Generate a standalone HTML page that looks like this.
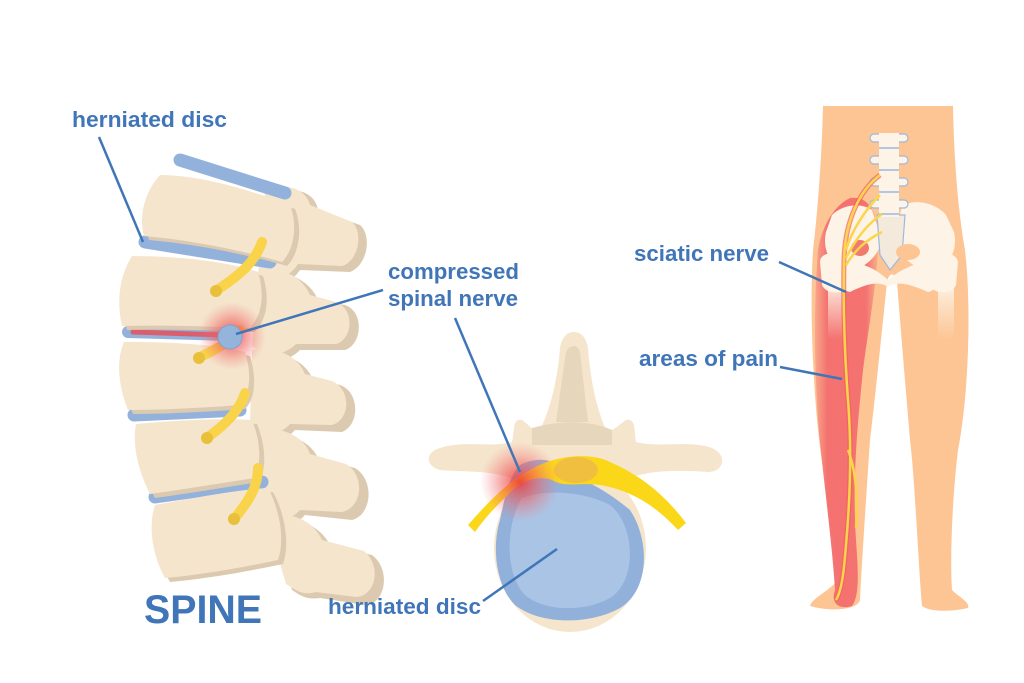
<!DOCTYPE html>
<html><head><meta charset="utf-8"><style>
html,body{margin:0;padding:0;background:#fff;width:1024px;height:683px;overflow:hidden}
svg{display:block}
text{font-family:"Liberation Sans",sans-serif;font-weight:bold;fill:#4076b8}
</style></head><body>
<svg width="1024" height="683" viewBox="0 0 1024 683" xmlns="http://www.w3.org/2000/svg">
<defs>
<radialGradient id="glow"><stop offset="0" stop-color="#ee3a3a" stop-opacity="0.9"/><stop offset="0.5" stop-color="#f06060" stop-opacity="0.5"/><stop offset="1" stop-color="#f38080" stop-opacity="0"/></radialGradient>
<linearGradient id="pain" x1="0" x2="1"><stop offset="0" stop-color="#f8a58a"/><stop offset="0.2" stop-color="#f36d6d"/><stop offset="0.8" stop-color="#f36d6d"/><stop offset="1" stop-color="#f9b08a"/></linearGradient>
<linearGradient id="femur" x1="0" y1="0" x2="0" y2="1"><stop offset="0" stop-color="#fdf3e6"/><stop offset="1" stop-color="#fdf3e6" stop-opacity="0"/></linearGradient>
</defs>

<!-- ===== SPINE (side view) ===== -->
<g stroke-linecap="round">
<g fill="#dccab0">
<path d="M270 195 C290 185 315 190 318 210 L360 225 C372 235 368 265 350 272 L300 270 C290 285 270 290 262 280 Z"/>
<path d="M262 275 C285 268 310 280 318 300 L345 305 C365 312 362 345 345 350 L300 350 C285 365 265 362 258 350 Z"/>
<path d="M258 355 C280 350 305 360 312 378 L340 385 C360 392 360 425 342 432 L295 430 C282 445 262 440 255 430 Z"/>
<path d="M262 435 C285 430 310 440 318 458 L355 468 C375 480 372 515 352 520 L305 515 C292 530 272 525 265 515 Z"/>
<path d="M272 520 C295 515 320 525 330 545 L372 555 C392 570 385 605 365 605 L320 598 C305 600 300 595 292 590 Z"/>
</g>
<g fill="#f5e5cd">
<path d="M265 192 C283 182 305 187 310 205 L352 222 C364 232 358 262 342 266 L298 264 C288 280 268 284 258 275 Z"/>
<path d="M258 272 C280 265 302 276 310 295 L336 302 C356 310 352 340 336 344 L296 344 C282 358 262 356 252 346 Z"/>
<path d="M252 350 C275 345 298 356 305 374 L332 381 C352 390 350 420 332 425 L290 424 C278 438 258 434 250 425 Z"/>
<path d="M256 430 C280 425 304 436 310 454 L346 464 C366 476 362 508 342 512 L300 510 C288 524 268 520 260 510 Z"/>
<path d="M266 516 C290 510 314 521 322 540 L364 551 C382 566 376 596 356 597 L316 592 C302 596 296 590 286 584 Z"/>
</g>
<line x1="180" y1="160" x2="285" y2="193" stroke="#92b2dc" stroke-width="13"/>
<line x1="145" y1="242" x2="270" y2="262" stroke="#92b2dc" stroke-width="13"/>
<line x1="128" y1="332" x2="230" y2="335" stroke="#92b2dc" stroke-width="12"/>
<line x1="134" y1="415" x2="240" y2="410" stroke="#92b2dc" stroke-width="13"/>
<line x1="155" y1="497" x2="262" y2="482" stroke="#92b2dc" stroke-width="13"/>
<line x1="133" y1="332" x2="222" y2="335" stroke="#e8505a" stroke-width="5" opacity="0.85"/>
<g fill="#dccab0">
<path d="M160 175 C200 175 250 190 290 205 C298 225 294 250 282 262 C240 250 190 240 144 236 C138 215 146 190 160 175Z" transform="translate(5,4)"/>
<path d="M132 256 C180 256 230 262 258 272 C265 295 262 315 250 328 C200 326 160 325 122 326 C116 300 120 275 132 256Z" transform="translate(5,4)"/>
<path d="M124 342 C170 342 215 344 245 352 C252 375 250 395 240 405 C200 408 160 410 128 410 C118 385 116 360 124 342Z" transform="translate(5,4)"/>
<path d="M136 424 C180 420 220 418 252 420 C260 440 262 460 255 478 C215 484 180 490 150 494 C138 470 132 445 136 424Z" transform="translate(5,4)"/>
<path d="M155 505 C195 498 235 490 268 488 C280 510 285 540 278 560 C240 568 200 575 165 578 C152 555 148 525 155 505Z" transform="translate(5,4)"/>
</g>
<g fill="#f5e5cd">
<path d="M160 175 C200 175 250 190 290 205 C298 225 294 250 282 262 C240 250 190 240 144 236 C138 215 146 190 160 175Z"/>
<path d="M132 256 C180 256 230 262 258 272 C265 295 262 315 250 328 C200 326 160 325 122 326 C116 300 120 275 132 256Z"/>
<path d="M124 342 C170 342 215 344 245 352 C252 375 250 395 240 405 C200 408 160 410 128 410 C118 385 116 360 124 342Z"/>
<path d="M136 424 C180 420 220 418 252 420 C260 440 262 460 255 478 C215 484 180 490 150 494 C138 470 132 445 136 424Z"/>
<path d="M155 505 C195 498 235 490 268 488 C280 510 285 540 278 560 C240 568 200 575 165 578 C152 555 148 525 155 505Z"/>
</g>
<g fill="none" stroke="#f9d34a" stroke-width="10">
<path d="M217 290 C240 275 255 262 262 242"/>
<path d="M200 357 C215 350 228 343 240 330"/>
<path d="M208 437 C225 425 240 410 245 393"/>
<path d="M235 518 C245 505 258 490 258 468"/>
</g>
<g fill="#e8c03a"><circle cx="216" cy="291" r="6"/><circle cx="199" cy="358" r="6"/><circle cx="207" cy="438" r="6"/><circle cx="234" cy="519" r="6"/></g>
<circle cx="232" cy="336" r="34" fill="url(#glow)"/>
<circle cx="230" cy="337" r="12" fill="#94b4dc" stroke="#7fa2d0" stroke-width="1"/>
</g>

<!-- ===== CROSS SECTION ===== -->
<g>
<path d="M440 448 C465 440 490 448 512 442 C515 430 512 418 522 420 C530 425 532 432 540 430 C552 405 558 375 560 348 C562 336 568 332 574 332 C580 332 586 336 588 348 C590 375 595 405 606 430 C614 432 618 425 626 420 C636 418 634 430 636 442 C660 448 690 440 712 448 C728 455 724 472 708 472 C680 470 650 470 630 478 L510 478 C490 470 460 472 440 470 C425 466 425 452 440 448Z" fill="#f5e5cd"/>
<path d="M566 352 C570 344 578 344 580 352 L588 422 L556 422 Z" fill="#e6d6bc"/>
<path d="M532 428 C560 420 590 420 612 430 L612 445 L532 445Z" fill="#e6d6bc"/>
<ellipse cx="570" cy="548" rx="76" ry="84" fill="#f5e5cd"/>
<path d="M520 465 C540 455 560 460 562 475 C575 475 600 485 630 510 C650 540 650 590 620 608 C590 625 540 625 515 605 C495 585 492 545 500 520 C505 495 510 475 520 465Z" fill="#91b1da"/>
<path d="M522 498 C545 490 580 490 610 505 C635 525 638 580 610 598 C585 612 545 612 525 595 C505 575 505 525 522 498Z" fill="#aac4e6"/>
<path d="M468 525 C490 500 510 480 530 470 C555 455 590 452 610 462 C640 475 665 495 686 523 L678 530 C655 505 630 490 600 485 C580 482 565 488 552 480 C540 475 520 480 508 495 C495 507 485 518 475 532Z" fill="#fbd71a"/>
<ellipse cx="576" cy="470" rx="22" ry="13" fill="#f1bf40"/>
<circle cx="520" cy="482" r="40" fill="url(#glow)"/>
</g>

<!-- ===== BODY ===== -->
<g>
<path d="M823 106 L953 106 C954 160 958 210 965 250 C972 310 968 400 958 450 C952 500 950 560 952 590 C960 598 970 602 968 608 C950 612 930 612 922 606 C918 560 915 480 910 440 C905 380 900 320 897 282 C895 272 889 272 887 282 C882 330 876 390 870 440 C866 500 862 560 860 600 C858 610 830 612 810 606 C812 598 828 592 838 580 C832 520 822 470 818 430 C812 370 810 300 813 250 C818 210 822 150 823 106Z" fill="#fdc593"/>
<path d="M850 198 C870 195 880 215 878 250 C875 300 866 340 862 380 C858 420 852 480 856 540 C858 570 860 595 852 606 C840 610 830 604 835 590 C832 540 822 470 818 420 C814 360 814 300 818 250 C822 225 835 205 850 198Z" fill="url(#pain)" opacity="0.95"/>
<!-- pelvis -->
<g fill="#fdf3e6">
<path d="M832 215 C842 205 860 202 872 210 L882 240 C878 255 870 262 860 268 L846 270 C830 265 822 250 826 232 Z"/>
<path d="M946 215 C936 203 915 198 902 206 L895 240 C900 255 908 262 918 268 L934 270 C950 265 958 250 954 232 Z"/>
<path d="M846 262 C862 262 878 270 888 280 C900 270 915 262 932 262 C942 272 940 290 928 292 C912 285 898 280 888 287 C878 280 864 285 850 292 C838 290 836 272 846 262Z"/>
<path d="M820 262 C820 250 845 250 848 262 L850 285 C845 295 826 295 822 285 Z"/>
<path d="M930 262 C932 250 956 250 958 262 L956 285 C952 295 934 295 930 285 Z"/>
<path d="M877 215 L905 215 L902 255 L890 270 L880 255 Z" fill="#f4eadc" stroke="#9db8de" stroke-width="1.2"/>
</g>
<rect x="828" y="280" width="16" height="60" fill="url(#femur)"/>
<rect x="938" y="280" width="16" height="60" fill="url(#femur)"/>
<ellipse cx="860" cy="248" rx="9" ry="8" fill="#f07a70"/>
<ellipse cx="908" cy="252" rx="12" ry="8" fill="#fdc593"/>
<g fill="#fdf3e6" stroke="#9db8de" stroke-width="1.2">
<rect x="870" y="134" width="38" height="8" rx="4"/>
<rect x="870" y="156" width="38" height="8" rx="4"/>
<rect x="870" y="178" width="38" height="8" rx="4"/>
<rect x="870" y="200" width="38" height="8" rx="4"/>
</g>
<rect x="879" y="133" width="20" height="84" fill="#fdf3e6"/>
<g stroke="#9db8de" stroke-width="1.5"><line x1="879" y1="148" x2="899" y2="148"/><line x1="879" y1="170" x2="899" y2="170"/><line x1="879" y1="192" x2="899" y2="192"/><line x1="879" y1="214" x2="899" y2="214"/></g>
<g fill="none" stroke="#f26060" stroke-width="5" opacity="0.7">
<path d="M880 175 C860 190 845 220 844 260 C843 310 845 360 848 400 C852 450 850 500 846 545 C844 570 842 590 836 600"/>
</g>
<g fill="none" stroke="#fbd54a" stroke-width="2.5">
<path d="M880 175 C860 190 845 220 844 260 C843 310 845 360 848 400 C852 450 850 500 846 545 C844 570 842 590 836 600"/>
<path d="M848 450 C856 470 858 500 856 528"/>
<path d="M880 195 C865 210 852 230 846 250"/>
<path d="M882 214 C866 225 855 240 846 258"/>
<path d="M882 232 C866 240 855 250 846 265"/>
</g>
</g>

<!-- ===== LABELS & LEADERS ===== -->
<g stroke="#4076b8" stroke-width="2.5" fill="none">
<line x1="99" y1="137" x2="143" y2="242"/>
<line x1="383" y1="290" x2="236" y2="334"/>
<line x1="455" y1="318" x2="520" y2="472"/>
<line x1="483" y1="601" x2="557" y2="549"/>
<line x1="779" y1="262" x2="846" y2="292"/>
<line x1="780" y1="367" x2="842" y2="379"/>
</g>
<g font-size="22" lengthAdjust="spacingAndGlyphs">
<text x="72" y="127" textLength="155" lengthAdjust="spacingAndGlyphs">herniated disc</text>
<text x="388" y="279" textLength="131" lengthAdjust="spacingAndGlyphs">compressed</text>
<text x="388" y="306" textLength="130" lengthAdjust="spacingAndGlyphs">spinal nerve</text>
<text x="328" y="614" textLength="153" lengthAdjust="spacingAndGlyphs">herniated disc</text>
<text x="634" y="261" textLength="135" lengthAdjust="spacingAndGlyphs">sciatic nerve</text>
<text x="639" y="366" textLength="139" lengthAdjust="spacingAndGlyphs">areas of pain</text>
</g>
<text x="144" y="623" font-size="40" textLength="118" lengthAdjust="spacingAndGlyphs">SPINE</text>
</svg>
</body></html>
